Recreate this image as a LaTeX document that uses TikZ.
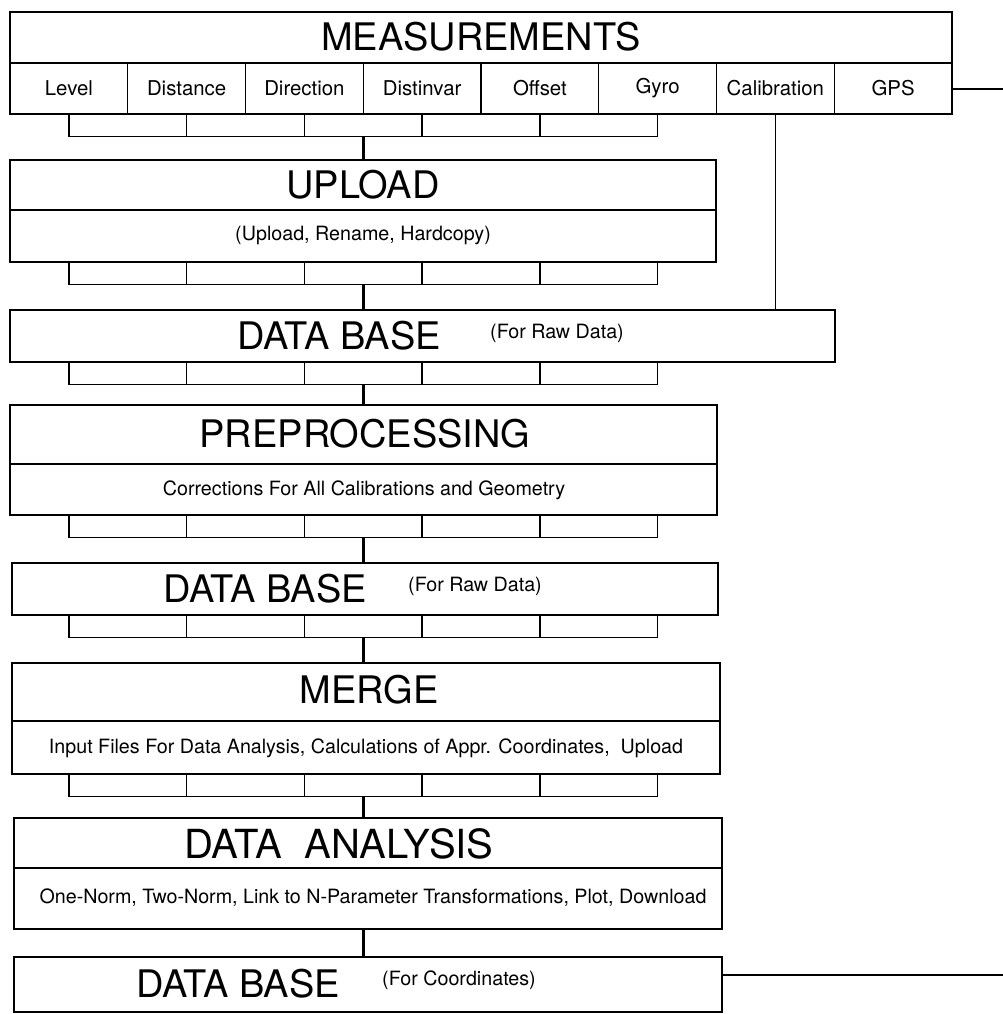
\documentclass[tikz,border=0pt]{standalone}
\usepackage{fontspec}
\setmainfont{TeX Gyre Heros}
\usetikzlibrary{fit}

\begin{document}
\begin{tikzpicture}[x=0.025cm, y=-0.025cm,
				every node/.style={inner sep=0pt},
				box/.style={draw, line width=0.9pt},
				cell/.style={draw, line width=0.9pt, minimum width=2.94375cm, minimum height=1.275cm, font=\fontsize{14.5}{16}\selectfont},
				title/.style={font=\fontsize{27}{30}\selectfont},
				note/.style={font=\fontsize{14}{16}\selectfont},
				wire/.style={line width=0.9pt},
				trunk/.style={line width=2pt}]
				\useasboundingbox (0,0) rectangle (1003,1014);
				
				% boxes
				\node[box, fit={(10,12) (952,114)}] (meas) {};
				\node[box, fit={(10,160) (716,262)}] (upl) {};
				\node[box, fit={(10,310) (835,362)}] (db1) {};
				\node[box, fit={(10,405) (717,515)}] (pre) {};
				\node[box, fit={(12,563) (718,615)}] (db2) {};
				\node[box, fit={(12,663) (720,774)}] (mrg) {};
				\node[box, fit={(14,818) (722,929)}] (ana) {};
				\node[box, fit={(14,957) (722,1012)}] (db3) {};
				
				\foreach \lab [count=\i] in {Level,Distance,Direction,Distinvar,Offset,Gyro,Calibration,GPS}
					\node[cell] (m\i) at ({10+117.75*(\i-0.5)},88.5) {\lab};
				
				\foreach \b/\y in {upl/210, pre/464, mrg/721, ana/868}
					\draw[wire] (\b.west |- 0,\y) -- (\b.east |- 0,\y);
				
				\node[title] (tmeas) at (481,37) {MEASUREMENTS};
				\node[title] (tupl) at (363,185) {UPLOAD};
				\node[note] (nupl) at (363,235) {(Upload, Rename, Hardcopy)};
				\node[title] (tdb1) at (339,336) {DATA BASE};
				\node[note] (ndb1) at (557,333) {(For Raw Data)};
				\node[title] (tpre) at (365,434) {PREPROCESSING};
				\node[note] (npre) at (364,490) {Corrections For All Calibrations and Geometry};
				\node[title] (tdb2) at (265,589) {DATA BASE};
				\node[note] (ndb2) at (475,586) {(For Raw Data)};
				\node[title] (tmrg) at (369,690) {MERGE};
				\node[note] (nmrg) at (366,748) {Input Files For Data Analysis, Calculations of Appr. Coordinates,\ \ Upload};
				\node[title, font=\fontsize{28.5}{31}\selectfont] (tana) at (339,844) {DATA\ \ ANALYSIS};
				\node[note] (nana) at (373,898) {One-Norm, Two-Norm, Link to N-Parameter Transformations, Plot, Download};
				\node[title] (tdb3) at (238,984) {DATA BASE};
				\node[note] (ndb3) at (459,980) {(For Coordinates)};
				
				% combs and trunks
				\foreach \b/\n in {meas/upl, upl/db1, db1/pre, pre/db2, db2/mrg, mrg/ana}{
					\foreach \i in {1,...,6}
						\draw[wire] (m\i.south |- \b.south) -- ++(0,22);
					\draw[wire] (m1.south |- \b.south) ++(0,22) -- ++(588.75,0);
					\draw[trunk] (m3.south east |- \b.south) ++(0,22) -- (m3.south east |- \n.north);
				}
				\draw[trunk] (m3.south east |- ana.south) -- (m3.south east |- db3.north);
				
				\draw[wire] (m7.south) -- (m7.south |- db1.north);
				\coordinate (gpsout) at (1003,89);
				\draw[wire] (m8.east |- gpsout) -- (gpsout);
				\coordinate (db3out) at (1003,975);
				\draw[wire] (db3.east |- db3out) -- (db3out);
\end{tikzpicture}
\end{document}
